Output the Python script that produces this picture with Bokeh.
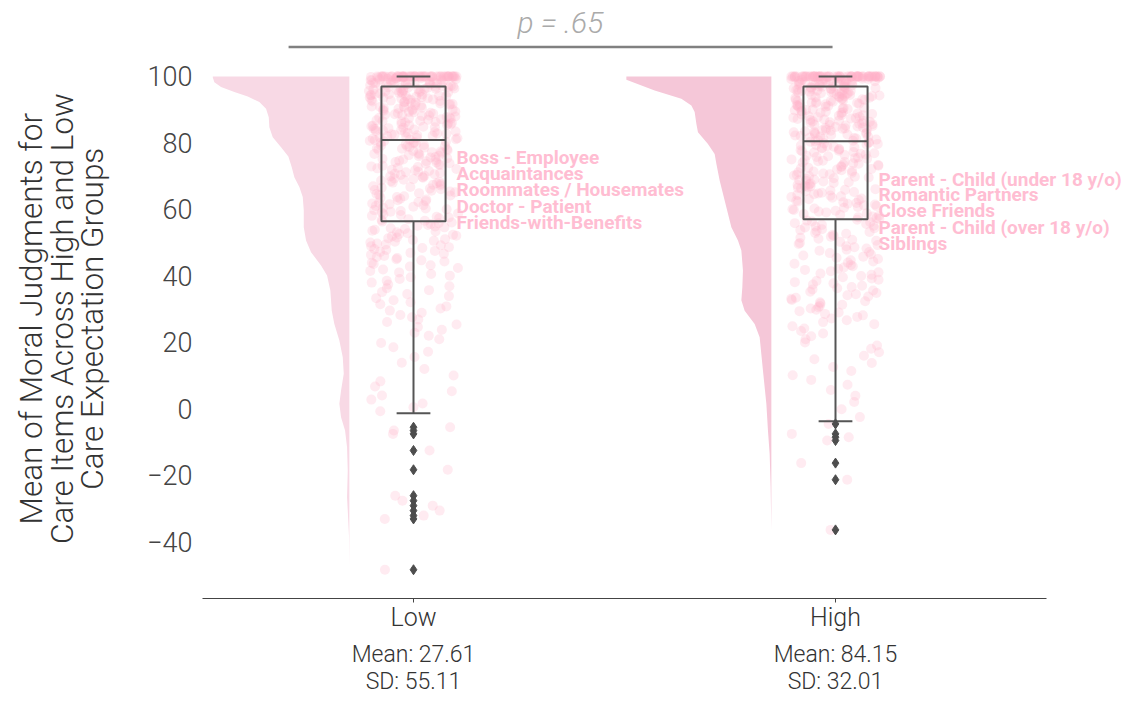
import numpy as np
from bokeh.plotting import figure
from bokeh.models import FixedTicker, LinearAxis
from bokeh.embed import file_html
from bokeh.resources import INLINE
from bokeh.core.properties import value

# ---------------- data ----------------
groups = ["Low", "High"]
group_pos = [0, 1]
means = [27.61, 84.15]
sds = [55.11, 32.01]
p_label = "p = .65"
y_title_lines = ["Mean of Moral Judgments for", "Care Items Across High and Low",
                 "Care Expectation Groups"]

# box-plot statistics
q1 = [56.4, 57.0]
medians = [80.9, 80.5]
q3 = [97.0, 97.0]
whisk_lo = [-1.4, -3.8]
whisk_hi = [100.0, 100.0]

outliers_low = [-5.6, -6.6, -7.6, -12.6, -18.4, -26.2, -27.7, -29.2, -30.7, -32.2, -33.2, -48.5]
outliers_high = [-4.6, -7.6, -8.6, -9.6, -16.4, -21.4, -36.5]

# half-violin outline (value, relative density)
low_v = [100.0, 99.8, 98.3, 96.8, 95.3, 94.0, 92.3, 90.3, 87.7, 84.7, 81.7, 78.7, 75.9, 72.7, 69.7,
         66.7, 63.7, 59.7, 54.6, 50.6, 47.1, 43.1, 40.1, 35.6, 29.5, 25.5, 20.5, 15.5, 10.5, 5.5,
         1.5, -2.6, -6.6, -11.6, -18.6, -26.7, -30.7, -38.7, -47.7]
low_d = [136.6, 136.6, 135.0, 128.3, 115.0, 101.6, 90.0, 83.3, 80.6, 80.0, 76.6, 68.3, 61.0, 57.6, 55.0,
         50.0, 46.6, 45.6, 45.6, 43.3, 38.3, 28.3, 22.3, 19.0, 17.6, 15.0, 10.0, 6.6, 5.6, 8.3,
         10.0, 8.3, 4.3, 2.3, 1.6, 2.3, 1.6, 0.3, 0.0]
high_v = [100.0, 99.6, 99.0, 95.8, 93.3, 91.3, 89.3, 85.8, 83.2, 79.7, 76.7, 73.7, 68.7, 62.7, 54.6,
          50.6, 47.6, 41.6, 36.6, 32.6, 29.5, 25.5, 21.5, 11.5, 1.5, -6.6, -13.6, -23.6, -36.7]
high_d = [145.0, 145.0, 145.0, 116.7, 90.0, 80.0, 76.7, 75.0, 73.4, 63.4, 56.7, 55.0, 51.7, 46.7, 40.0,
          33.4, 30.0, 28.4, 29.0, 30.0, 26.7, 16.7, 11.7, 8.4, 5.0, 3.4, 1.7, 0.7, 0.0]

n_points = [380, 400]
n_at_100 = [55, 65]

low_items = ["Boss - Employee", "Acquaintances", "Roommates / Housemates",
             "Doctor - Patient", "Friends-with-Benefits"]
low_item_y = [75.6, 70.8, 66.1, 61.0, 56.1]
high_items = ["Parent - Child (under 18 y/o)", "Romantic Partners", "Close Friends",
              "Parent - Child (over 18 y/o)", "Siblings"]
high_item_y = [69.0, 64.4, 59.6, 54.4, 49.6]

y_ticks = [-40, -20, 0, 20, 40, 60, 80, 100]

# ---------------- style / layout ----------------
FONT = "Roboto Light"
BOLD_FONT = "Roboto"
PINK_PTS = "#ffaec6"
VIOLIN_COLORS = ["#f8d9e5", "#f5c7d8"]
LABEL_PINK = "#ffbdd2"
BOX_COLOR = "#555555"
TEXT_DARK = "#333333"
VIOLIN_OFFSET = 0.152
DENS_SCALE = 1.0 / 422.0
JITTER = 0.106
BOX_W = 0.152
CAP_W = 0.08
X_LO, X_HI = -0.5, 1.5
Y_LO, Y_HI = -57.16, 122.88
TITLE_PAD = "\u00a0" * 5   # shifts the centred axis title down to match the reference

p = figure(width=1129, height=697, x_range=(X_LO, X_LO + 927 / 422), y_range=(Y_LO, Y_HI),
           output_backend="svg", toolbar_location=None,
           min_border_left=202, min_border_right=0, min_border_top=0, min_border_bottom=99)
p.outline_line_color = None
p.grid.visible = False
p.background_fill_color = "white"

# violins
for pos, v, d, col in [(group_pos[0], low_v, low_d, VIOLIN_COLORS[0]),
                       (group_pos[1], high_v, high_d, VIOLIN_COLORS[1])]:
    right = pos - VIOLIN_OFFSET
    xs = [right - di * DENS_SCALE for di in d] + [right, right]
    ys = list(v) + [v[-1], v[0]]
    p.patch(xs, ys, fill_color=col, line_color=None)


def sample_values(v, d, lo, hi, n):
    va = np.array(v[::-1], dtype=float)
    da = np.array(d[::-1], dtype=float)
    grid = np.linspace(lo, hi, 3000)
    dens = np.interp(grid, va, da)
    cdf = np.cumsum(dens)
    cdf = cdf / cdf[-1]
    qs = (np.arange(n) + 0.5) / n
    return np.interp(qs, cdf, grid)


# jittered strip points (only the horizontal jitter is pseudo-random, as in a strip plot)
jitter_rng = np.random.default_rng(11)
for i, (pos, v, d, outs) in enumerate([(group_pos[0], low_v, low_d, outliers_low),
                                       (group_pos[1], high_v, high_d, outliers_high)]):
    vals = sample_values(v, d, whisk_lo[i], whisk_hi[i], n_points[i])
    vals = np.concatenate([vals, np.array(outs), np.full(n_at_100[i], 100.0)])
    xs = pos + jitter_rng.uniform(-JITTER, JITTER, len(vals))
    p.scatter(xs, vals, size=10, fill_color=PINK_PTS, fill_alpha=0.25, line_color=None)

# box plots
for i, pos in enumerate(group_pos):
    p.quad(left=[pos - BOX_W / 2], right=[pos + BOX_W / 2], bottom=[q1[i]], top=[q3[i]],
           fill_color=None, line_color=BOX_COLOR, line_width=2)
    p.segment(x0=[pos - BOX_W / 2], x1=[pos + BOX_W / 2], y0=[medians[i]], y1=[medians[i]],
              line_color=BOX_COLOR, line_width=2)
    p.segment(x0=[pos, pos], x1=[pos, pos], y0=[q3[i], q1[i]], y1=[whisk_hi[i], whisk_lo[i]],
              line_color=BOX_COLOR, line_width=2)
    p.segment(x0=[pos - CAP_W / 2] * 2, x1=[pos + CAP_W / 2] * 2,
              y0=[whisk_hi[i], whisk_lo[i]], y1=[whisk_hi[i], whisk_lo[i]],
              line_color=BOX_COLOR, line_width=2)

p.scatter([group_pos[0]] * len(outliers_low), outliers_low, marker="diamond", size=10,
          fill_color="#4d4d4d", line_color="#4d4d4d")
p.scatter([group_pos[1]] * len(outliers_high), outliers_high, marker="diamond", size=10,
          fill_color="#4d4d4d", line_color="#4d4d4d")

# relationship labels
for pos, items, iy in [(group_pos[0], low_items, low_item_y), (group_pos[1], high_items, high_item_y)]:
    p.text(x=[pos + 0.102] * len(items), y=iy, text=items, text_font=value(BOLD_FONT),
           text_font_style="bold", text_font_size="19px", text_color=LABEL_PINK,
           text_align="left", text_baseline="alphabetic")

# significance bar
p.segment(x0=[group_pos[0] - 0.296], x1=[group_pos[1] - 0.007], y0=[108.9], y1=[108.9],
          line_color="#808080", line_width=2.5)
p.text(x=[0.348], y=[116.4], text=[p_label], text_font=value(FONT), text_font_style="italic",
       text_font_size="30px", text_color="#aaaaaa", text_align="center", text_baseline="alphabetic")

# y axis (tick labels + last line of the title)
p.yaxis.ticker = FixedTicker(ticks=y_ticks)
p.yaxis.major_label_overrides = {t: (str(t).replace("-", "\u2212")) for t in y_ticks}
p.yaxis.axis_line_color = None
p.yaxis.major_tick_line_color = None
p.yaxis.minor_tick_line_color = None
p.yaxis.major_tick_out = 0
p.yaxis.major_tick_in = 0
p.yaxis.major_label_standoff = 10
p.yaxis.major_label_text_font = FONT
p.yaxis.major_label_text_font_size = "27px"
p.yaxis.major_label_text_color = "#444444"


def style_title(ax, text, standoff):
    ax.axis_label = text + TITLE_PAD
    ax.axis_label_text_font = FONT
    ax.axis_label_text_font_style = "normal"
    ax.axis_label_text_font_size = "31.5px"
    ax.axis_label_text_color = TEXT_DARK
    ax.axis_label_standoff = standoff


style_title(p.yaxis[0], y_title_lines[2], 33)
for line in [y_title_lines[1], y_title_lines[0]]:
    ax = LinearAxis(ticker=FixedTicker(ticks=[]))
    ax.axis_line_color = None
    ax.major_tick_line_color = None
    ax.minor_tick_line_color = None
    ax.major_tick_out = 0
    ax.major_tick_in = 0
    ax.major_label_standoff = 0
    style_title(ax, line, -9)
    p.add_layout(ax, "left")

# x axis: category names
p.xaxis.ticker = FixedTicker(ticks=group_pos)
p.xaxis.bounds = (X_LO, X_HI)
p.xaxis.major_label_overrides = {pos: g for pos, g in zip(group_pos, groups)}
p.xaxis.axis_line_color = "#444444"
p.xaxis.axis_line_width = 1.2
p.xaxis.major_tick_line_color = "#444444"
p.xaxis.major_tick_out = 4
p.xaxis.major_tick_in = 0
p.xaxis.minor_tick_line_color = None
p.xaxis.major_label_standoff = 0
p.xaxis.major_label_text_font = FONT
p.xaxis.major_label_text_font_size = "25px"
p.xaxis.major_label_text_color = TEXT_DARK


def stat_axis(labels, standoff):
    ax = LinearAxis(ticker=FixedTicker(ticks=group_pos), bounds=(X_LO, X_HI))
    ax.major_label_overrides = {pos: t for pos, t in zip(group_pos, labels)}
    ax.axis_line_color = None
    ax.major_tick_line_color = None
    ax.minor_tick_line_color = None
    ax.major_tick_out = 0
    ax.major_tick_in = 0
    ax.major_label_standoff = standoff
    ax.major_label_text_font = FONT
    ax.major_label_text_font_size = "23px"
    ax.major_label_text_color = TEXT_DARK
    return ax


p.add_layout(stat_axis([f"Mean: {m:.2f}" for m in means], 6), "below")
p.add_layout(stat_axis([f"SD: {s:.2f}" for s in sds], -3), "below")

open("out.html", "w").write(file_html(p, INLINE))
